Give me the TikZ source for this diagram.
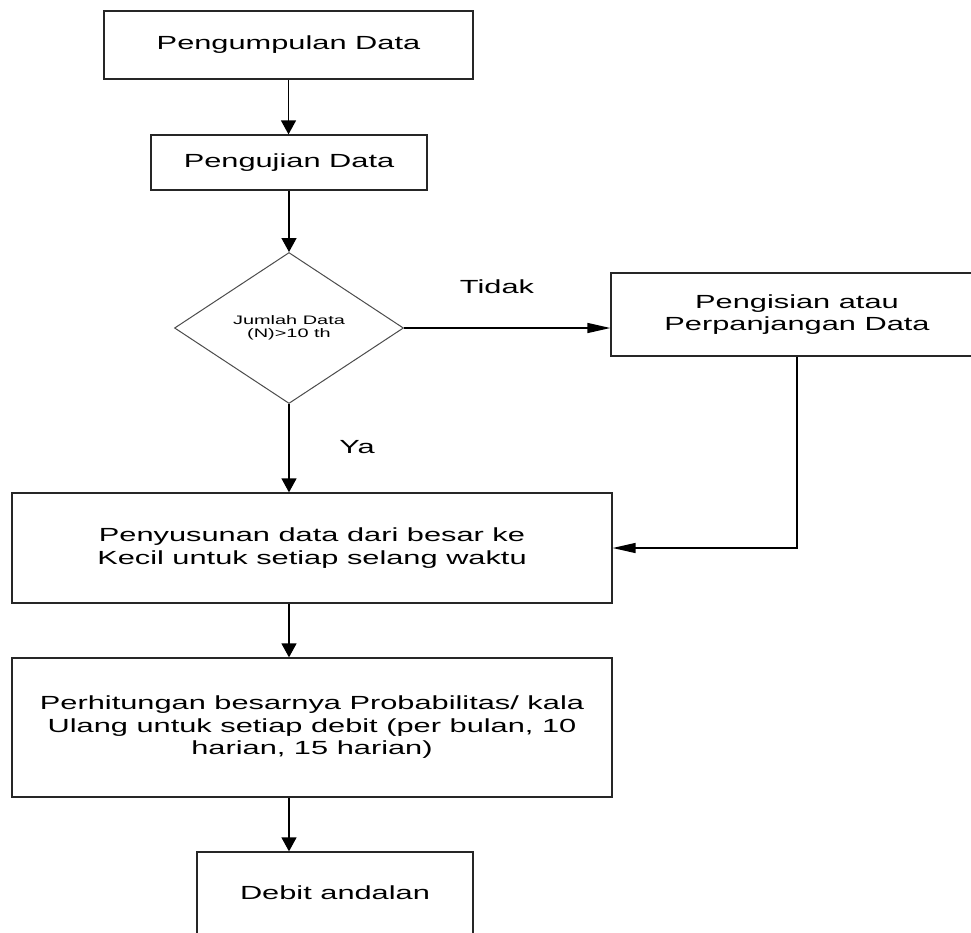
\documentclass[tikz,border=0pt]{standalone}
\usepackage{fontspec}
\setmainfont[FakeStretch=1.62]{Liberation Sans}
\usetikzlibrary{shapes.geometric,arrows.meta}
\begin{document}
\begin{tikzpicture}[x=1pt,y=-1pt,
  box/.style={draw=black!85,line width=1.3pt,rectangle,inner sep=0pt,align=center,
    font=\fontsize{19}{22.5}\selectfont},
  dia/.style={draw=black!70,line width=1pt,diamond,inner sep=0pt,align=center,
    font=\fontsize{12.3}{13.3}\selectfont},
  varr/.style={draw=black,line width=1.4pt,-{Triangle[length=14pt,width=15pt]}},
  harr/.style={draw=black,line width=1.4pt,-{Triangle[length=23pt,width=10pt]}},
  lbl/.style={inner sep=0pt,font=\fontsize{19}{22}\selectfont}]
\useasboundingbox[fill=white] (0,0) rectangle (971,932);

\node[box,minimum width=369pt,minimum height=68pt] (b1) at (288.5,45) {Pengumpulan Data};
\node[box,minimum width=276pt,minimum height=55pt] (b2) at (289,162.5) {Pengujian Data};
\node[dia,minimum width=229pt,minimum height=151pt] (d) at (289,328) {Jumlah Data\\(N)>10 th};
\node[box,minimum width=372pt,minimum height=83pt] (p) at (797,314.5) {Pengisian atau\\Perpanjangan Data};
\node[box,minimum width=600pt,minimum height=110pt] (b3) at (312,548)
  {Penyusunan data dari besar ke\\Kecil untuk setiap selang waktu};
\node[box,minimum width=600pt,minimum height=139pt] (b4) at (312,727.5)
  {Perhitungan besarnya Probabilitas/ kala\\Ulang untuk setiap debit (per bulan, 10\\harian, 15 harian)};
\node[box,minimum width=276pt,minimum height=82pt] (b5) at (335,893) {Debit andalan};

\node[lbl] (tidak) at (497,287) {Tidak};
\node[lbl] (ya) at (357,447) {Ya};

\draw[varr] (b1.south) -- (b1.south |- b2.north);
\draw[varr] (b2.south) -- (d.north);
\draw[harr] (d.east) -- (d.east -| p.west);
\draw[varr] (d.south) -- (d.south |- b3.north);
\draw[harr] (p.south) |- (b3.east);
\draw[varr] (d.south |- b3.south) -- (d.south |- b4.north);
\draw[varr] (d.south |- b4.south) -- (d.south |- b5.north);
\end{tikzpicture}
\end{document}
